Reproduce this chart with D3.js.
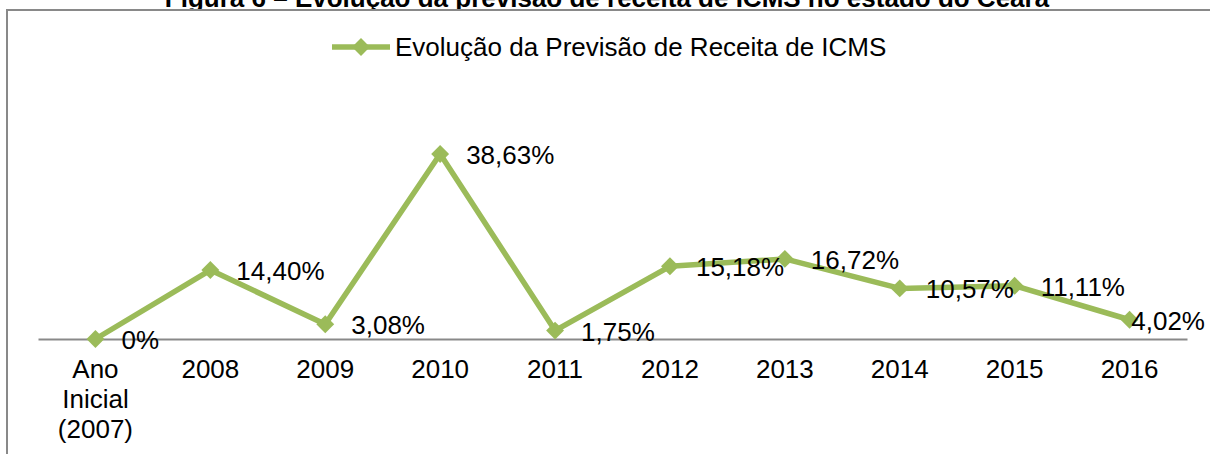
<!DOCTYPE html>
<html>
<head>
<meta charset="utf-8">
<script src="https://cdn.jsdelivr.net/npm/d3@7"></script>
<style>
  html, body { margin: 0; padding: 0; background: #fff; }
  svg { display: block; }
  text { font-family: "Liberation Sans", Arial, sans-serif; fill: #000; }
</style>
</head>
<body>
<svg id="chart" width="1210" height="454"></svg>
<script>
const titleText = "Figura 6 – Evolução da previsão de receita de ICMS no estado do Ceará";
const seriesName = "Evolução da Previsão de Receita de ICMS";
const categories = ["Ano Inicial (2007)", "2008", "2009", "2010", "2011", "2012", "2013", "2014", "2015", "2016"];
const categoryLines = [["Ano", "Inicial", "(2007)"], ["2008"], ["2009"], ["2010"], ["2011"], ["2012"], ["2013"], ["2014"], ["2015"], ["2016"]];
const values = [0, 14.40, 3.08, 38.63, 1.75, 15.18, 16.72, 10.57, 11.11, 4.02];
const valueLabels = ["0%", "14,40%", "3,08%", "38,63%", "1,75%", "15,18%", "16,72%", "10,57%", "11,11%", "4,02%"];

const W = 1210, H = 454;
const green = "#9BBB59";
const svg = d3.select("#chart");

// Title (partially clipped by the chart box, as in the source)
svg.append("text")
  .attr("x", 607).attr("y", 7)
  .attr("text-anchor", "middle")
  .style("font-weight", "bold")
  .style("font-size", "26px")
  .text(titleText);

// Chart box (continues past the right and bottom edges)
svg.append("rect")
  .attr("x", 7).attr("y", 10)
  .attr("width", 1400).attr("height", 600)
  .attr("fill", "#fff")
  .attr("stroke", "#898989")
  .attr("stroke-width", 2);

const x = d3.scaleBand().domain(categories).range([38, 1187]).padding(0);
const y = d3.scaleLinear().domain([0, 38.63]).range([339, 154]);

// Category axis
const xAxis = d3.axisBottom(x).tickSize(0).tickFormat("");
const gx = svg.append("g").attr("transform", `translate(0,${y(0)})`).call(xAxis);
gx.select(".domain").attr("stroke", "#898989").attr("stroke-width", 2);

const lbl = svg.append("g");
categories.forEach((c, i) => {
  const cx = x(c) + x.bandwidth() / 2;
  const t = lbl.append("text")
    .attr("x", cx)
    .attr("y", 378)
    .attr("text-anchor", "middle")
    .style("font-size", "26px");
  categoryLines[i].forEach((ln, j) => {
    t.append("tspan").attr("x", cx).attr("y", 378 + j * 30).text(ln);
  });
});

// Line
const px = (d, i) => x(categories[i]) + x.bandwidth() / 2;
const line = d3.line().x((d, i) => px(d, i)).y(d => y(d));
svg.append("path")
  .datum(values)
  .attr("d", line)
  .attr("fill", "none")
  .attr("stroke", green)
  .attr("stroke-width", 5.5)
  .attr("stroke-linejoin", "round");

// Markers (diamonds)
const diamond = d3.symbol().type(d3.symbolSquare).size(160);
svg.append("g").selectAll("path")
  .data(values)
  .join("path")
  .attr("d", diamond)
  .attr("transform", (d, i) => `translate(${px(d, i)},${y(d)}) rotate(45)`)
  .attr("fill", green);

// Data labels
svg.append("g").selectAll("text")
  .data(values)
  .join("text")
  .style("font-size", "26px")
  .attr("y", d => y(d) + 10)
  .text((d, i) => valueLabels[i])
  .each(function (d, i) {
    const w = this.getComputedTextLength();
    const xs = Math.min(px(d, i) + 26, 1205 - w);
    d3.select(this).attr("x", xs);
  });

// Legend
const lg = svg.append("g");
lg.append("line")
  .attr("x1", 332).attr("x2", 390).attr("y1", 47).attr("y2", 47)
  .attr("stroke", green).attr("stroke-width", 5.5);
lg.append("path")
  .attr("d", diamond)
  .attr("transform", "translate(361,47) rotate(45)")
  .attr("fill", green);
lg.append("text")
  .attr("x", 395).attr("y", 56)
  .style("font-size", "26px")
  .text(seriesName);
</script>
</body>
</html>
